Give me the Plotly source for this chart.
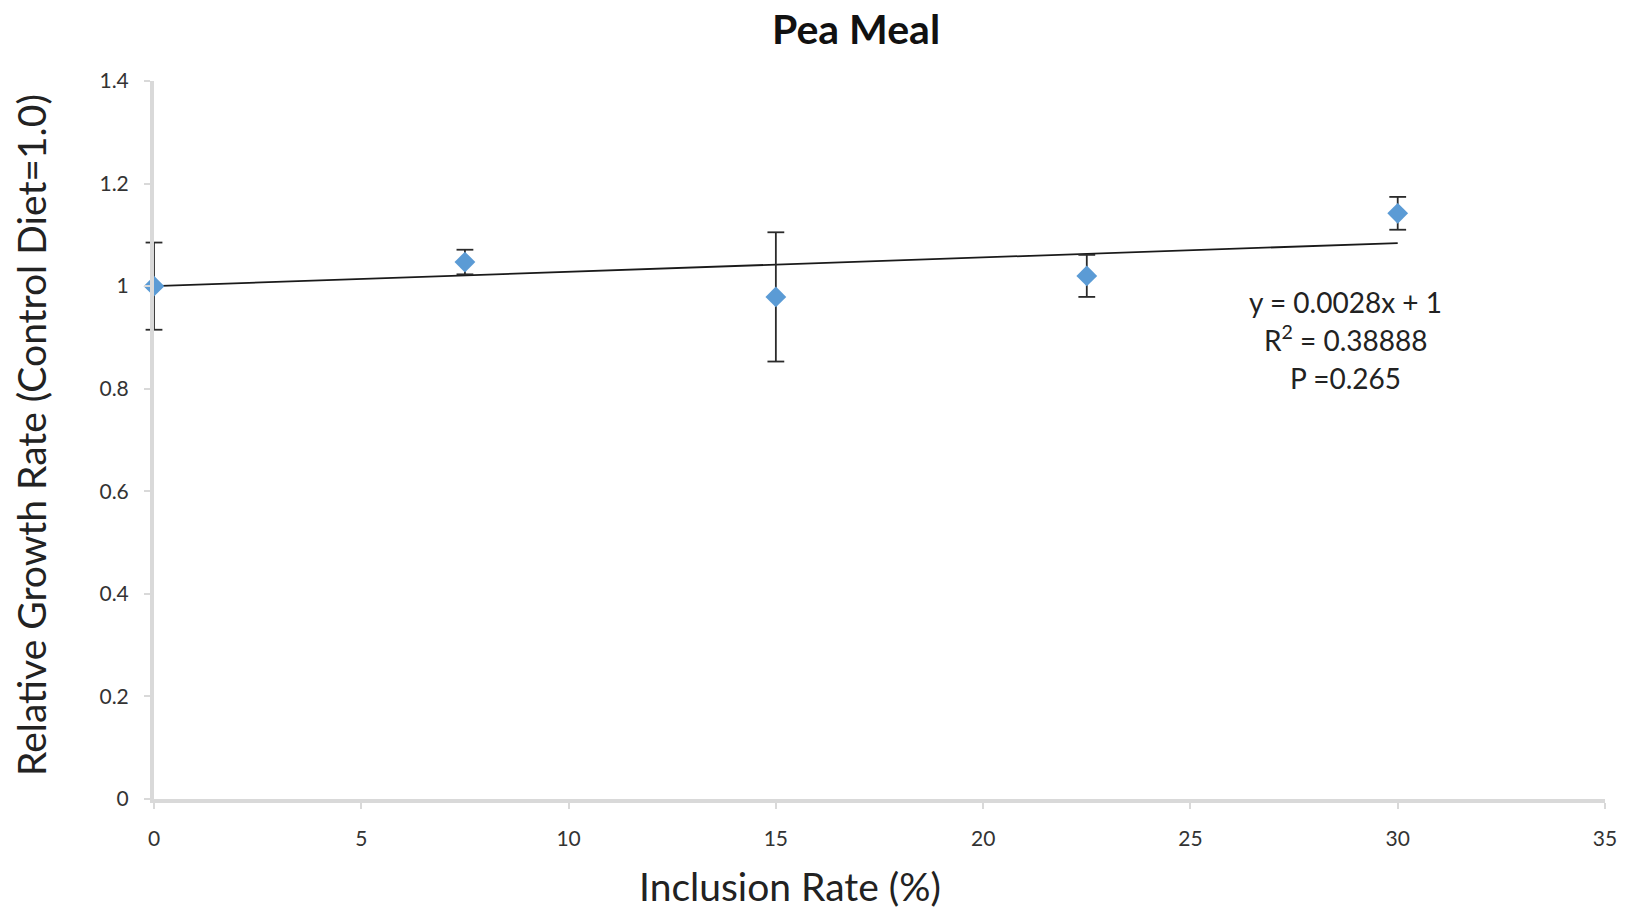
import plotly.graph_objects as go

inclusion = [0, 7.5, 15, 22.5, 30]
growth = [1.0, 1.047, 0.979, 1.02, 1.142]
err = [0.085, 0.024, 0.126, 0.041, 0.032]
slope, intercept = 0.0028, 1.0
trend_x = [0, 30]
trend_y = [intercept + slope * x for x in trend_x]

FONT = "Lato, 'Open Sans', sans-serif"
AXC = "#d9d9d9"
ERRC = "#2b2b2b"

# page body has an 8px default margin; layout offsets compensate for it
L, R, T, B = 146, 36, 73, 118
W, H = 1633, 909
PW = W - L - R
PH = H - T - B

fig = go.Figure()
fig.add_trace(go.Scatter(
    x=trend_x, y=trend_y, mode="lines",
    line=dict(color="#1a1a1a", width=1.8), showlegend=False, hoverinfo="skip"))
# error bar stems
fig.add_trace(go.Scatter(
    x=inclusion, y=growth, mode="markers", cliponaxis=False,
    marker=dict(size=1, color="rgba(0,0,0,0)"),
    error_y=dict(type="data", array=err, visible=True, color=ERRC, thickness=1.8, width=0),
    showlegend=False, hoverinfo="skip"))
# error bar caps (unclipped so the one on the axis shows fully)
cap_x = inclusion + inclusion
cap_y = [g + e for g, e in zip(growth, err)] + [g - e for g, e in zip(growth, err)]
fig.add_trace(go.Scatter(
    x=cap_x, y=cap_y, mode="markers", cliponaxis=False,
    marker=dict(symbol="line-ew", size=12, line=dict(color=ERRC, width=1.8)),
    showlegend=False, hoverinfo="skip"))
fig.add_trace(go.Scatter(
    x=inclusion, y=growth, mode="markers", cliponaxis=False,
    marker=dict(symbol="diamond", size=16, color="#5b9bd5"),
    showlegend=False))

# chart title as an annotation placed in paper space
fig.add_annotation(text="<b>Pea Meal</b>", xref="paper", yref="paper",
                   x=(848 - L) / PW, y=1 + (T - 21) / PH,
                   xanchor="center", yanchor="middle", showarrow=False,
                   font=dict(size=41, color="#111111", family=FONT))

fig.update_layout(
    width=W, height=H,
    paper_bgcolor="white", plot_bgcolor="white",
    margin=dict(l=L, r=R, t=T, b=B),
    font=dict(family=FONT, color="#222222"),
)
fig.update_xaxes(range=[0, 35], tickvals=[0, 5, 10, 15, 20, 25, 30, 35],
                 showgrid=False, zeroline=False, showline=True, linecolor=AXC, linewidth=4,
                 ticks="outside", tickcolor=AXC, ticklen=6, tickwidth=2,
                 ticklabelstandoff=12,
                 tickfont=dict(size=21, color="#333333"))
fig.update_yaxes(range=[0, 1.4], tickvals=[0, 0.2, 0.4, 0.6, 0.8, 1, 1.2, 1.4],
                 ticktext=["0", "0.2", "0.4", "0.6", "0.8", "1", "1.2", "1.4"],
                 showgrid=False, zeroline=False, showline=True, linecolor=AXC, linewidth=4,
                 ticks="outside", tickcolor=AXC, ticklen=6, tickwidth=2,
                 ticklabelstandoff=11,
                 tickfont=dict(size=21, color="#333333"))

# axis titles
fig.add_annotation(text="Inclusion Rate (%)", xref="paper", yref="paper",
                   x=(781.5 - L) / PW, y=-(878 - (H - B)) / PH,
                   xanchor="center", yanchor="middle", showarrow=False,
                   font=dict(size=39, color="#222222", family=FONT))
fig.add_annotation(text="Relative Growth Rate (Control Diet=1.0)", xref="paper", yref="paper",
                   x=(23 - L) / PW, y=((H - B) - 427) / PH, textangle=-90,
                   xanchor="center", yanchor="middle", showarrow=False,
                   font=dict(size=39, color="#222222", family=FONT))

# equation labels
eq_lines = ["y = 0.0028x + 1", "R<sup>2</sup> = 0.38888", "P =0.265"]
eq_y = [0.969, 0.8976, 0.8205]
for t, yy in zip(eq_lines, eq_y):
    fig.add_annotation(text=t, x=28.75, y=yy, xref="x", yref="y", showarrow=False,
                       xanchor="center", yanchor="middle",
                       font=dict(size=28, color="#222222", family=FONT))

fig.write_html("out.html")
